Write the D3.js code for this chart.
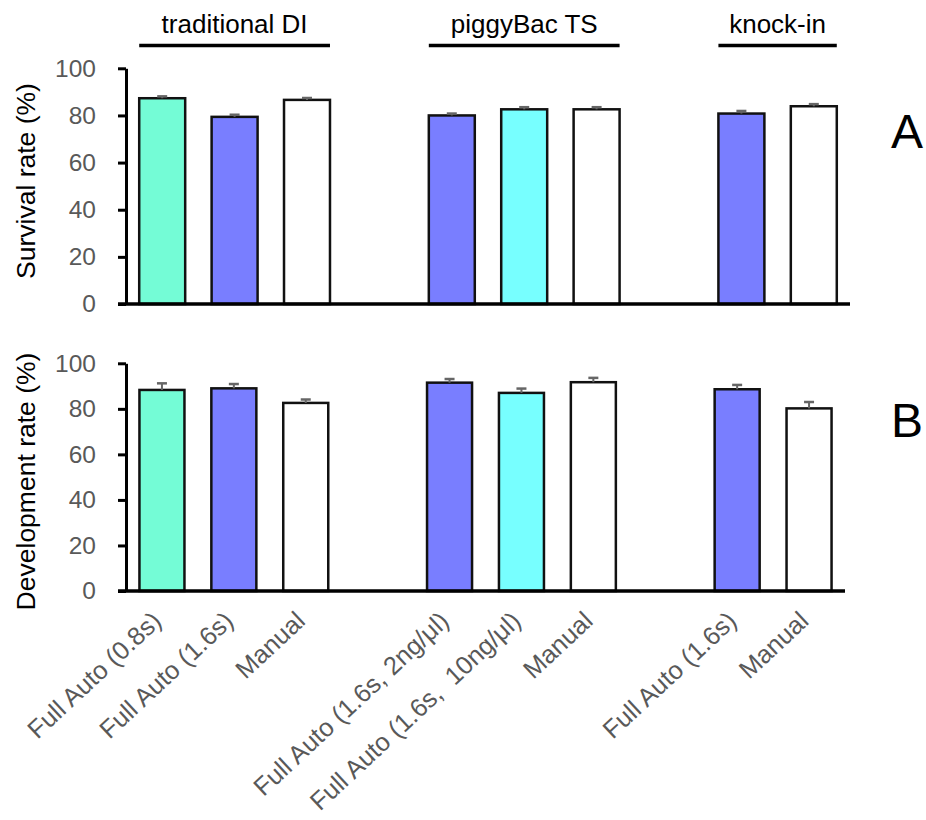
<!DOCTYPE html>
<html>
<head>
<meta charset="utf-8">
<script src="https://cdn.jsdelivr.net/npm/d3@7/dist/d3.min.js"></script>
<style>
  html, body { margin: 0; padding: 0; background: #fff; }
  svg { display: block; font-family: "Liberation Sans", Arial, sans-serif; }
</style>
</head>
<body>
<svg id="chart" width="926" height="820"></svg>
<script>
// ---- data ----
const categories = [
  "Full Auto (0.8s)", "Full Auto (1.6s)", "Manual",
  "Full Auto (1.6s, 2ng/μl)", "Full Auto (1.6s,  10ng/μl)", "Manual",
  "Full Auto (1.6s)", "Manual"
];
const slots = [0, 1, 2, 4, 5, 6, 8, 9];          // position index (gaps between groups)
const groups = ["traditional DI", "piggyBac TS", "knock-in"];
const groupOf = [0, 0, 0, 1, 1, 1, 2, 2];
const colorKey = ["aqua", "blue", "white", "blue", "cyan", "white", "blue", "white"];
const survival = [87.3, 79.4, 86.6, 80.0, 82.6, 82.6, 80.8, 83.9];
const survivalErr = [0.8, 0.9, 0.8, 0.8, 0.9, 0.9, 1.1, 0.9];
const development = [88.3, 89.0, 82.6, 91.5, 87.0, 91.7, 88.6, 80.2];
const developmentErr = [2.9, 1.9, 1.5, 1.6, 1.9, 1.9, 1.9, 2.8];
const yTicks = [0, 20, 40, 60, 80, 100];
const panelLetters = ["A", "B"];
const yTitles = ["Survival rate (%)", "Development rate (%)"];

const palette = { aqua: "#74fcd6", blue: "#797eff", cyan: "#77ffff", white: "#ffffff" };

const svg = d3.select("#chart");
const slotDomain = d3.range(10);

function panel(cfg) {
  const x = d3.scaleBand().domain(slotDomain).range([cfg.x0, cfg.x1])
    .paddingInner(cfg.pad).paddingOuter(cfg.pad / 2);
  const y = d3.scaleLinear().domain([0, 100]).range([cfg.yBottom, cfg.yTop]);
  const g = svg.append("g");

  // bars
  g.selectAll("rect.bar").data(cfg.values).join("rect")
    .attr("class", "bar")
    .attr("x", (d, i) => x(slots[i]))
    .attr("y", d => y(d))
    .attr("width", x.bandwidth())
    .attr("height", d => y(0) - y(d))
    .attr("fill", (d, i) => palette[colorKey[i]])
    .attr("stroke", "#111")
    .attr("stroke-width", 2.5);

  // error bars
  const eb = g.selectAll("g.err").data(cfg.values).join("g").attr("class", "err");
  eb.append("line")
    .attr("x1", (d, i) => x(slots[i]) + x.bandwidth() / 2)
    .attr("x2", (d, i) => x(slots[i]) + x.bandwidth() / 2)
    .attr("y1", d => y(d))
    .attr("y2", (d, i) => y(d + cfg.errs[i]))
    .attr("stroke", "#666").attr("stroke-width", 2);
  eb.append("line")
    .attr("x1", (d, i) => x(slots[i]) + x.bandwidth() / 2 - 5)
    .attr("x2", (d, i) => x(slots[i]) + x.bandwidth() / 2 + 5)
    .attr("y1", (d, i) => y(d + cfg.errs[i]))
    .attr("y2", (d, i) => y(d + cfg.errs[i]))
    .attr("stroke", "#666").attr("stroke-width", 2.5);

  // y axis
  const ya = g.append("g").attr("transform", `translate(${cfg.x0},0)`)
    .call(d3.axisLeft(y).tickValues(yTicks).tickSize(8).tickSizeOuter(0).tickPadding(22));
  ya.select(".domain").attr("stroke", "#000").attr("stroke-width", 3);
  ya.selectAll(".tick line").attr("stroke", "#000").attr("stroke-width", 3);
  ya.selectAll(".tick text").attr("fill", "#595959").attr("font-size", 24.5)
    .attr("font-family", "Liberation Sans, Arial, sans-serif");

  // x baseline
  g.append("line")
    .attr("x1", cfg.x0 - 8).attr("x2", cfg.x1)
    .attr("y1", y(0)).attr("y2", y(0))
    .attr("stroke", "#000").attr("stroke-width", 3.5);

  // y title
  g.append("text")
    .attr("transform", `translate(${cfg.titleX},${cfg.titleY}) rotate(-90)`)
    .attr("text-anchor", "middle")
    .attr("font-size", 26.5)
    .attr("fill", "#000")
    .text(cfg.title);

  // panel letter
  g.append("text")
    .attr("x", 891).attr("y", cfg.letterY)
    .attr("font-size", 48)
    .attr("fill", "#000")
    .text(cfg.letter);

  return { x, y };
}

const A = panel({
  x0: 126, x1: 850, pad: 0.365, yTop: 68.3, yBottom: 304,
  values: survival, errs: survivalErr, title: yTitles[0], titleX: 35, titleY: 181,
  letter: panelLetters[0], letterY: 148
});
const B = panel({
  x0: 126, x1: 845, pad: 0.374, yTop: 363.3, yBottom: 591,
  values: development, errs: developmentErr, title: yTitles[1], titleX: 35, titleY: 481.5,
  letter: panelLetters[1], letterY: 437
});

// group headers (top)
groups.forEach((name, gi) => {
  const idx = d3.range(categories.length).filter(i => groupOf[i] === gi);
  const left = d3.min(idx, i => A.x(slots[i]));
  const right = d3.max(idx, i => A.x(slots[i]) + A.x.bandwidth());
  svg.append("line")
    .attr("x1", left).attr("x2", right)
    .attr("y1", 45.5).attr("y2", 45.5)
    .attr("stroke", "#000").attr("stroke-width", 3.5);
  svg.append("text")
    .attr("x", (left + right) / 2).attr("y", 33)
    .attr("text-anchor", "middle")
    .attr("font-size", 26)
    .attr("fill", "#000")
    .text(name);
});

// category labels under panel B
svg.append("g").selectAll("text").data(categories).join("text")
  .attr("transform", (d, i) => `translate(${B.x(slots[i]) + B.x.bandwidth() / 2 + 1},623) rotate(-43)`)
  .attr("text-anchor", "end")
  .attr("font-size", 25.5)
  .attr("fill", "#595959")
  .style("white-space", "pre")
  .text(d => d);
</script>
</body>
</html>
